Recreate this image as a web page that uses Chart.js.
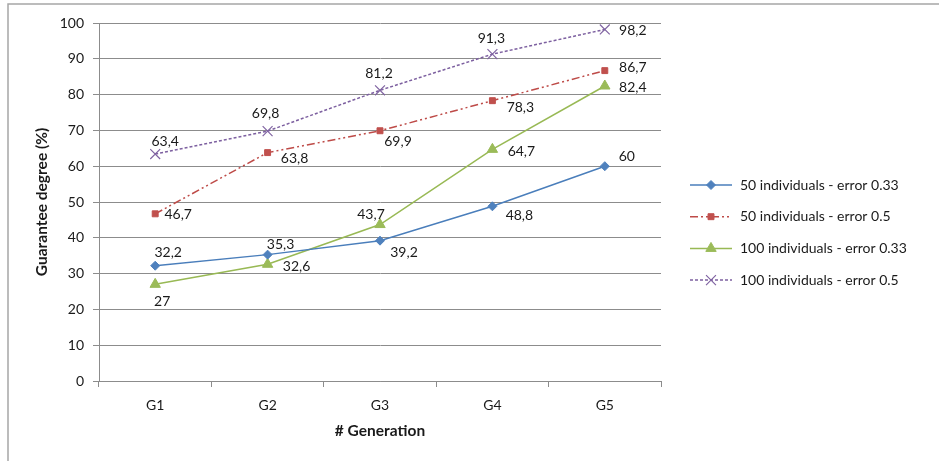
<!DOCTYPE html>
<html>
<head>
<meta charset="utf-8">
<script src="https://cdn.jsdelivr.net/npm/chart.js@4.4.0/dist/chart.umd.min.js"></script>
<style>
  html, body { margin: 0; padding: 0; background: #ffffff; }
  #wrap { position: relative; width: 939px; height: 461px; }
</style>
</head>
<body>
<div id="wrap"><canvas id="chart"></canvas></div>
<script>
// Categories and series values
const generations = ['G1', 'G2', 'G3', 'G4', 'G5'];
const ind50err033 = [32.2, 35.3, 39.2, 48.8, 60];
const ind50err05 = [46.7, 63.8, 69.9, 78.3, 86.7];
const ind100err033 = [27, 32.6, 43.7, 64.7, 82.4];
const ind100err05 = [63.4, 69.8, 81.2, 91.3, 98.2];
const seriesNames = [
  '50 individuals - error 0.33',
  '50 individuals - error 0.5',
  '100 individuals - error 0.33',
  '100 individuals - error 0.5'
];
// Value axis range
const yMin = 0, yMax = 100, yStep = 10;

// Where each value label sits relative to its point (dx, dy of the text centre)
const labelOffsets = [
  [[13, -13], [13, -10], [24, 12], [27, 9], [22, -10]],
  [[23, 1], [27, 6], [18, 11], [28, 7], [28, -3]],
  [[7, 17], [29, 2], [-9, -10], [29, 2], [28, 1]],
  [[10, -13], [-2, -18], [-1, -17], [-1, -16], [28, 1]]
];

const FONT = 'Lato';
const TEXT = '#1a1a1a';
const GRID = '#8c8c8c';
Chart.defaults.font.family = FONT;
Chart.defaults.font.size = 14;
Chart.defaults.color = TEXT;

const styles = [
  { line: '#4A7EBB', fill: '#4F81BD', point: 'rectRot', radius: 4.5, dash: [] },
  { line: '#BE4B48', fill: '#C0504D', point: 'rect', radius: 4.2, dash: [8, 3, 2, 3, 2, 3] },
  { line: '#98B954', fill: '#9BBB59', point: 'triangle', radius: 6, dash: [] },
  { line: '#7D60A0', fill: '#8064A2', point: 'crossRot', radius: 7, dash: [3, 2] }
];
const seriesData = [ind50err033, ind50err05, ind100err033, ind100err05];

const datasets = seriesData.map((vals, i) => ({
  label: seriesNames[i],
  data: vals,
  borderColor: styles[i].line,
  backgroundColor: styles[i].fill,
  pointBackgroundColor: styles[i].fill,
  pointBorderColor: styles[i].fill,
  pointStyle: styles[i].point,
  pointRadius: styles[i].radius,
  pointBorderWidth: styles[i].point === 'crossRot' ? 1.2 : 1,
  borderWidth: 1.5,
  borderDash: styles[i].dash,
  tension: 0,
  fill: false
}));

const fmt = v => String(v).replace('.', ',');

// Outer frame of the chart
const framePlugin = {
  id: 'frame',
  beforeDraw(chart) {
    const ctx = chart.ctx;
    ctx.save();
    ctx.strokeStyle = '#a6a6a6';
    ctx.lineWidth = 1.5;
    ctx.beginPath();
    ctx.moveTo(8, chart.height + 2);
    ctx.lineTo(8, 4);
    ctx.lineTo(chart.width + 2, 4);
    ctx.stroke();
    ctx.restore();
  }
};

// Value labels next to each point
const valueLabelPlugin = {
  id: 'valueLabels',
  afterDatasetsDraw(chart) {
    const ctx = chart.ctx;
    ctx.save();
    ctx.font = '14px ' + FONT;
    ctx.fillStyle = TEXT;
    ctx.textAlign = 'center';
    ctx.textBaseline = 'middle';
    chart.data.datasets.forEach((ds, i) => {
      const meta = chart.getDatasetMeta(i);
      meta.data.forEach((pt, j) => {
        const [dx, dy] = labelOffsets[i][j];
        ctx.fillText(fmt(ds.data[j]), pt.x + dx, pt.y + dy);
      });
    });
    ctx.restore();
  }
};

// Legend at the right, line sample with marker
const legendPlugin = {
  id: 'sideLegend',
  afterDraw(chart) {
    const ctx = chart.ctx;
    const x0 = 690, x1 = 732, xm = 711, xt = 740, y0 = 185, gap = 31.7;
    ctx.save();
    chart.data.datasets.forEach((ds, i) => {
      const y = y0 + i * gap;
      ctx.strokeStyle = ds.borderColor;
      ctx.lineWidth = ds.borderWidth;
      ctx.setLineDash(ds.borderDash);
      ctx.beginPath();
      ctx.moveTo(x0, y);
      ctx.lineTo(x1, y);
      ctx.stroke();
      ctx.setLineDash([]);
      ctx.fillStyle = ds.pointBackgroundColor;
      ctx.strokeStyle = ds.pointBorderColor;
      ctx.lineWidth = ds.pointBorderWidth;
      Chart.helpers.drawPoint(ctx, {
        pointStyle: ds.pointStyle, radius: ds.pointRadius, rotation: 0, borderWidth: ds.pointBorderWidth
      }, xm, y);
      ctx.font = '14px ' + FONT;
      ctx.fillStyle = TEXT;
      ctx.textAlign = 'left';
      ctx.textBaseline = 'middle';
      ctx.fillText(ds.label, xt, y);
    });
    ctx.restore();
  }
};

new Chart(document.getElementById('chart'), {
  type: 'line',
  data: { labels: generations, datasets },
  plugins: [framePlugin, valueLabelPlugin, legendPlugin],
  options: {
    responsive: true,
    maintainAspectRatio: false,
    animation: false,
    layout: { padding: { top: 23, right: 278, left: 0, bottom: 0 } },
    plugins: { legend: { display: false }, tooltip: { enabled: false } },
    scales: {
      x: {
        offset: true,
        grid: { offset: true, drawOnChartArea: false, drawTicks: true, tickLength: 6, color: GRID },
        border: { color: GRID, width: 1 },
        ticks: { padding: 10, color: TEXT, font: { size: 14 } },
        title: { display: true, text: '# Generation', color: TEXT, font: { size: 15.5, weight: 'bold' }, padding: { top: 0, bottom: 21 } },
        afterFit(scale) { scale.height = 80; }
      },
      y: {
        min: yMin,
        max: yMax,
        ticks: { stepSize: yStep, padding: 9, color: TEXT, font: { size: 14 } },
        grid: { color: GRID, tickLength: 6 },
        border: { color: GRID, width: 1 },
        title: { display: true, text: 'Guarantee degree (%)', color: TEXT, font: { size: 15.5, weight: 'bold' }, padding: { top: 33, bottom: 0 } },
        afterFit(scale) { scale.width = 99; }
      }
    }
  }
});
</script>
</body>
</html>
